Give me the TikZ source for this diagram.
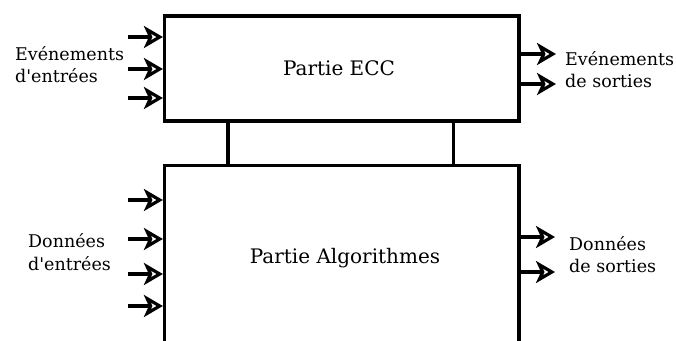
\documentclass[tikz,border=0pt]{standalone}
\usepackage{fontspec}
\setmainfont{DejaVu Serif}
\usetikzlibrary{calc}
\usetikzlibrary{arrows.meta}

\begin{document}
\begin{tikzpicture}[x=1pt,y=-1pt,
  bloc/.style={draw,line width=3.2pt,minimum width=354.5pt},
  titre/.style={font=\fontsize{20}{24}\selectfont,inner sep=0pt},
  fleche/.style={line width=3.2pt,-{Stealth[open,length=19pt,width=22pt,inset=5pt]}},
  etiq/.style={align=left,anchor=west,inner sep=0pt,font=\fontsize{17.5}{22.5}\selectfont}]
\useasboundingbox (0,0) rectangle (676,340);
\clip (0,0) rectangle (676,340);
% les deux parties
\node[bloc,minimum height=105pt] (ecc) at (341.75,68.5) {};
\node[bloc,minimum height=183pt,anchor=north] (algo) at (341.75,163.5) {};
\node[titre] (ecctxt) at (339,68.7) {Partie ECC};
\node[titre] (algotxt) at (345,258) {Partie Algorithmes};
% liaisons entre les parties
\coordinate (l1) at ($(ecc.south west)!0.182!(ecc.south east)$);
\coordinate (l2) at ($(ecc.south west)!0.813!(ecc.south east)$);
\draw[line width=3.2pt] (l1) -- (l1 |- algo.north);
\draw[line width=3.2pt] (l2) -- (l2 |- algo.north);
% evenements
\foreach \y [count=\i] in {37,69,98} {
  \coordinate (ee\i) at (128,\y);
  \draw[fleche] (ee\i) -- (ee\i -| ecc.west);
}
\foreach \y [count=\i] in {54,84} {
  \coordinate (es\i) at (556,\y);
  \draw[fleche] (es\i -| ecc.east) -- (es\i);
}
% donnees
\foreach \y [count=\i] in {200,239,274,306} {
  \coordinate (de\i) at (128,\y);
  \draw[fleche] (de\i) -- (de\i -| algo.west);
}
\foreach \y [count=\i] in {237,272} {
  \coordinate (ds\i) at (555,\y);
  \draw[fleche] (ds\i -| algo.east) -- (ds\i);
}
\node[etiq] (evin) at (15,64.5) {Evénements\\d\textquotesingle entrées};
\node[etiq] (evout) at (565,69.5) {Evénements\\de sorties};
\node[etiq] (donin) at (28,252) {Données\\d\textquotesingle entrées};
\node[etiq] (donout) at (569,254.5) {Données\\de sorties};
\end{tikzpicture}
\end{document}
